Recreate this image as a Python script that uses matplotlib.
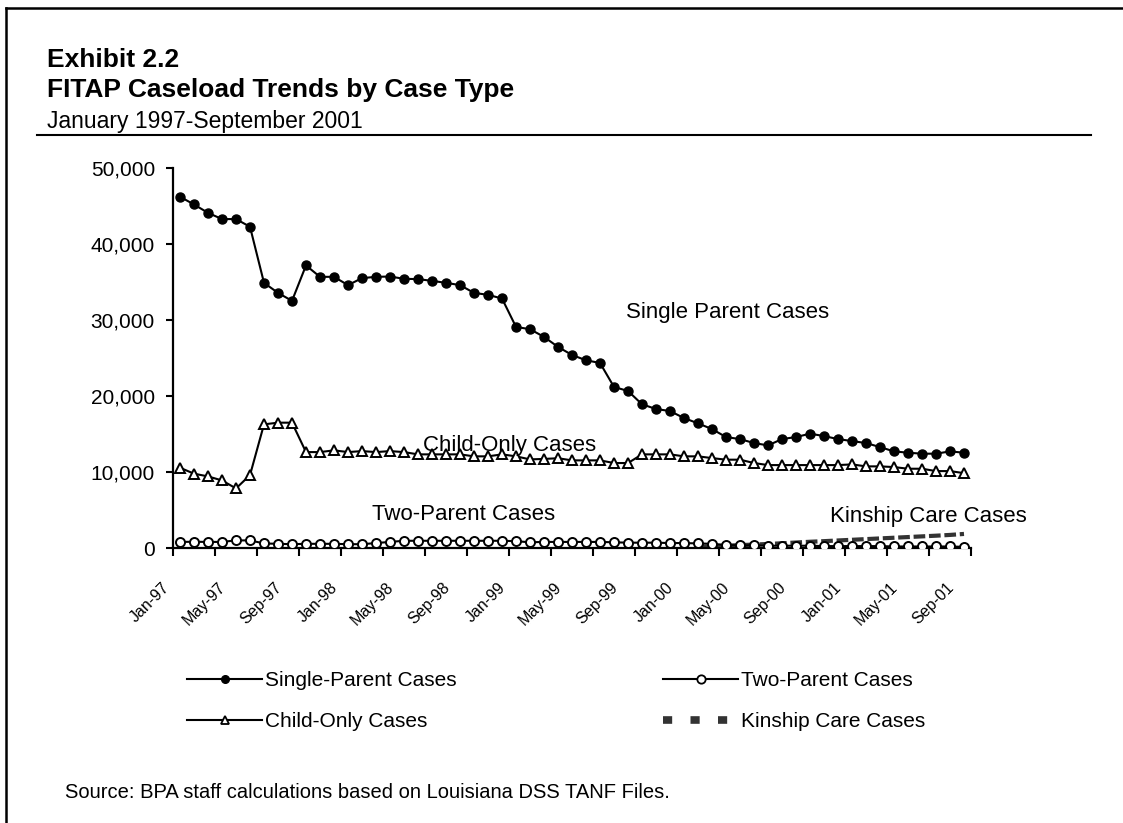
import numpy as np
import matplotlib
matplotlib.use("Agg")
import matplotlib.pyplot as plt
import matplotlib.transforms as mtransforms
from matplotlib.lines import Line2D
from matplotlib.ticker import FuncFormatter, FixedLocator

plt.rcParams['font.family'] = ['Liberation Sans', 'DejaVu Sans']

# ---------------- data ----------------
months = ["Jan-97", "Feb-97", "Mar-97", "Apr-97", "May-97", "Jun-97", "Jul-97", "Aug-97", "Sep-97", "Oct-97", "Nov-97", "Dec-97",
          "Jan-98", "Feb-98", "Mar-98", "Apr-98", "May-98", "Jun-98", "Jul-98", "Aug-98", "Sep-98", "Oct-98", "Nov-98", "Dec-98",
          "Jan-99", "Feb-99", "Mar-99", "Apr-99", "May-99", "Jun-99", "Jul-99", "Aug-99", "Sep-99", "Oct-99", "Nov-99", "Dec-99",
          "Jan-00", "Feb-00", "Mar-00", "Apr-00", "May-00", "Jun-00", "Jul-00", "Aug-00", "Sep-00", "Oct-00", "Nov-00", "Dec-00",
          "Jan-01", "Feb-01", "Mar-01", "Apr-01", "May-01", "Jun-01", "Jul-01", "Aug-01", "Sep-01"]

single_parent = [46220, 45200, 44100, 43280, 43280, 42270, 34890, 33570, 32520, 37180, 35680, 35680,
                 34590, 35510, 35680, 35720, 35420, 35380, 35150, 34890, 34590, 33570, 33310, 32830,
                 29090, 28790, 27780, 26460, 25400, 24700, 24350, 21190, 20660, 18910, 18290, 18020,
                 17100, 16400, 15650, 14600, 14330, 13810, 13500, 14330, 14600, 15040, 14730, 14330,
                 14070, 13810, 13280, 12710, 12540, 12410, 12410, 12710, 12540]

child_only = [10560, 9780, 9420, 8890, 7840, 9590, 16270, 16490, 16490, 12620, 12620, 12850,
              12620, 12750, 12620, 12750, 12620, 12320, 12320, 12320, 12320, 12060, 12060, 12320,
              12060, 11660, 11720, 11810, 11530, 11530, 11530, 11180, 11180, 12320, 12320, 12320,
              12060, 12060, 11830, 11620, 11620, 11180, 10910, 10910, 10910, 10910, 10910, 10910,
              11000, 10740, 10740, 10650, 10430, 10430, 10120, 10120, 9850]

two_parent = [800, 820, 800, 800, 1000, 1000, 600, 550, 500, 550, 550, 550,
              500, 500, 650, 800, 950, 950, 950, 950, 950, 950, 950, 950,
              900, 750, 800, 800, 800, 800, 800, 750, 700, 700, 700, 650,
              650, 600, 550, 400, 350, 350, 300, 300, 300, 300, 250, 250,
              250, 250, 250, 200, 200, 200, 200, 200, 150]

kinship = [np.nan] * 37 + [150, 200, 300, 380, 450, 530, 620, 720, 820, 900, 990,
                            1080, 1170, 1260, 1350, 1440, 1530, 1620, 1720, 1850]

y_ticks = [0, 10000, 20000, 30000, 40000, 50000]

# ---------------- figure ----------------
W, H = 1123, 823
fig = plt.figure(figsize=(W / 100, H / 100), dpi=100)

def fx(px):
    return px / W

def fy(py):
    return 1 - py / H

ax = fig.add_axes([fx(173), fy(548), fx(971) - fx(173), fy(168) - fy(548)])

x = np.arange(len(months))
ax.plot(x, kinship, color='#333333', lw=3.0, dashes=(2.8, 0.9), dash_capstyle='butt',
        zorder=2)
ax.plot(x, two_parent, color='black', lw=1.5, marker='o', ms=6.5, mfc='white', mec='black',
        mew=1.4, zorder=3)
ax.plot(x, child_only, color='black', lw=1.5, marker='^', ms=6.5, mfc='white', mec='black',
        mew=1.4, zorder=3)
ax.plot(x, single_parent, color='black', lw=1.5, marker='o', ms=6.5, mfc='black', mec='black',
        zorder=4)

ax.set_xlim(-0.5, len(months) - 0.5)
ax.set_ylim(0, 50000)

for s in ['top', 'right']:
    ax.spines[s].set_visible(False)
for s in ['left', 'bottom']:
    ax.spines[s].set_linewidth(1.6)

ax.yaxis.set_major_locator(FixedLocator(y_ticks))
ax.yaxis.set_major_formatter(FuncFormatter(lambda v, p: f"{int(v):,}"))
ax.tick_params(axis='y', direction='out', length=5, width=1.5, labelsize=15, pad=8)

# ticks every 3 categories (between categories), labels every 4 categories
ax.xaxis.set_major_locator(FixedLocator(np.arange(-0.5, len(months), 3)))
ax.xaxis.set_major_formatter(FuncFormatter(lambda v, p: ""))
ax.tick_params(axis='x', which='major', direction='out', length=6, width=1.5)
label_idx = list(range(0, len(months), 4))
ax.xaxis.set_minor_locator(FixedLocator(label_idx))
ax.set_xticklabels([months[i] for i in label_idx], minor=True)
ax.tick_params(axis='x', which='minor', length=0, labelsize=11.5, pad=23)
offset = mtransforms.ScaledTranslation(-18 / 100, 0, fig.dpi_scale_trans)
for lbl in ax.get_xticklabels(minor=True):
    lbl.set_rotation(45)
    lbl.set_ha('right')
    lbl.set_rotation_mode('anchor')
    lbl.set_transform(lbl.get_transform() + offset)

# series annotations
ax.text(31.86, 31290, "Single Parent Cases", fontsize=16, va='center_baseline', ha='left')
ax.text(17.36, 13770, "Child-Only Cases", fontsize=16, va='center_baseline', ha='left')
ax.text(13.71, 4680, "Two-Parent Cases", fontsize=16, va='center_baseline', ha='left')
ax.text(46.43, 4410, "Kinship Care Cases", fontsize=16, va='center_baseline', ha='left',
        clip_on=False)

# legend (custom handles)
h_single = Line2D([], [], color='black', lw=1.5, marker='o', ms=5.5, mfc='black', mec='black')
h_child = Line2D([], [], color='black', lw=1.5, marker='^', ms=6, mfc='white', mec='black', mew=1.3)
h_two = Line2D([], [], color='black', lw=1.5, marker='o', ms=6, mfc='white', mec='black', mew=1.3)
h_kin = Line2D([], [], color='#333333', lw=5.5, dashes=(1.2, 2.4), dash_capstyle='butt')
leg = fig.legend([h_single, h_child, h_two, h_kin],
                 ['Single-Parent Cases', 'Child-Only Cases', 'Two-Parent Cases', 'Kinship Care Cases'],
                 loc='upper left', bbox_to_anchor=(fx(187), fy(671)), ncol=2, frameon=False,
                 fontsize=15, handlelength=3.6, handletextpad=0.15,
                 columnspacing=9.9, labelspacing=1.05, numpoints=1, borderpad=0,
                 borderaxespad=0)

# titles
fig.text(fx(47), fy(67), "Exhibit 2.2", fontsize=19, fontweight='bold', va='baseline', ha='left')
fig.text(fx(47), fy(97), "FITAP Caseload Trends by Case Type", fontsize=19, fontweight='bold',
         va='baseline', ha='left')
fig.text(fx(47), fy(128), "January 1997-September 2001", fontsize=16.5, va='baseline', ha='left')
fig.add_artist(Line2D([fx(37), fx(1091)], [fy(135), fy(135)], color='black', lw=1.5))

# outer frame
fig.add_artist(Line2D([fx(6), 1.0], [fy(8), fy(8)], color='black', lw=1.8))
fig.add_artist(Line2D([fx(6), fx(6)], [0.0, fy(8)], color='black', lw=1.8))

fig.text(fx(65), fy(790), "Source: BPA staff calculations based on Louisiana DSS TANF Files.",
         fontsize=14.5, va='center_baseline', ha='left')

fig.savefig("out.png", dpi=100)
